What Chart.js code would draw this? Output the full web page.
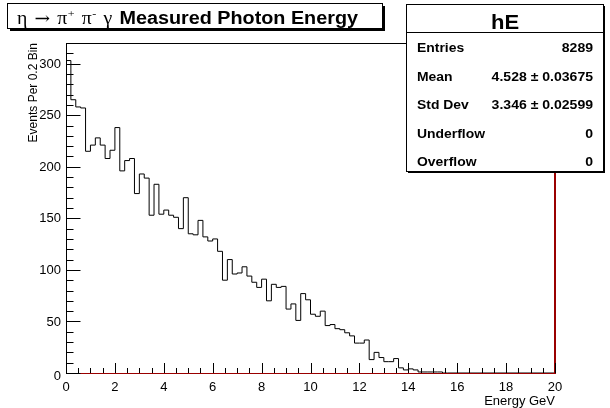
<!DOCTYPE html>
<html>
<head>
<meta charset="utf-8">
<script src="https://cdn.jsdelivr.net/npm/chart.js@4/dist/chart.umd.min.js"></script>
<style>
  html, body { margin: 0; padding: 0; background: #fff; overflow: hidden; }
  canvas { display: block; }
</style>
</head>
<body>
<canvas id="c" width="610" height="408"></canvas>
<script>
// Photon energy spectrum, 0.2 GeV bins starting at 0 GeV
const binWidth = 0.2;
const counts = [
  170, 303, 265, 258, 257, 215, 221, 228, 221, 208,
  216, 238, 196, 206, 208, 174, 193, 189, 153, 183,
  154, 158, 153, 151, 140, 170, 135, 134, 148, 132,
  128, 130, 118, 90, 110, 96, 97, 103, 94, 88,
  83, 91, 70, 86, 83, 84, 62, 67, 51, 77,
  71, 57, 55, 60, 46, 47, 43, 42, 39, 36,
  29, 29, 32, 13, 20, 15, 11, 11, 14, 5,
  3, 4, 3, 1, 1, 1, 1, 1
];

// Axis ranges and tick labels
const xMin = 0, xMax = 20;
const yMin = 0, yMax = 320;
const xTickLabels = [0, 2, 4, 6, 8, 10, 12, 14, 16, 18, 20];
const yTickLabels = [0, 50, 100, 150, 200, 250, 300];
const xMinorStep = 0.5;
const yMinorStep = 10;

const xTitle = 'Energy GeV';
const yTitle = 'Events Per 0.2 Bin';

// Statistics box
const statsName = 'hE';
const statsLabels = ['Entries', 'Mean', 'Std Dev', 'Underflow', 'Overflow'];
const statsValues = ['8289', '4.528 \u00b1 0.03675', '3.346 \u00b1 0.02599', '0', '0'];

// Step outline: one point per bin low edge, closed back down to zero
const points = [{ x: xMin, y: 0 }];
counts.forEach((c, i) => points.push({ x: i * binWidth, y: c }));
points.push({ x: counts.length * binWidth, y: 0 });
points.push({ x: xMax, y: 0 });

const SANS = '"Liberation Sans", Arial, Helvetica, sans-serif';
const SERIF = '"Liberation Serif", "DejaVu Serif", "Times New Roman", serif';

// text drawn with a horizontal stretch factor
function wideText(ctx, t, x, y, sx, align) {
  ctx.save();
  ctx.translate(x, y);
  ctx.scale(sx, 1);
  ctx.textAlign = align || 'left';
  ctx.fillText(t, 0, 0);
  ctx.restore();
}

function drawTitle(ctx) {
  // shadowed title pave
  ctx.fillStyle = '#000';
  ctx.fillRect(10, 6, 375, 25);
  ctx.fillStyle = '#fff';
  ctx.fillRect(7.5, 3.5, 375, 25);
  ctx.strokeStyle = '#000';
  ctx.lineWidth = 1;
  ctx.strokeRect(7.5, 3.5, 375, 25);

  const base = 24;
  const gap = 6.5;
  const big = '18px ' + SERIF, small = '11px ' + SERIF, bold = 'bold 18px ' + SANS;
  const arrow = '17px "DejaVu Serif", ' + SERIF;
  const runs = [
    { t: '\u03b7', f: big, dy: 0, g: gap },
    { t: '\u2192', f: arrow, dy: 0, g: gap },
    { t: '\u03c0', f: big, dy: 0, g: 0.5 },
    { t: '+', f: small, dy: -7, g: gap },
    { t: '\u03c0', f: big, dy: 0, g: 0.5 },
    { t: '-', f: small, dy: -7, g: gap },
    { t: '\u03b3', f: big, dy: 0, g: gap },
    { t: 'Measured Photon Energy', f: bold, dy: 0, g: 0 }
  ];
  let total = 0;
  runs.forEach(r => { ctx.font = r.f; r.w = ctx.measureText(r.t).width; total += r.w + r.g; });
  const x0 = 17, x1 = 358;
  const sx = (x1 - x0) / total;
  ctx.fillStyle = '#000';
  ctx.textBaseline = 'alphabetic';
  let xc = x0;
  runs.forEach(r => {
    ctx.font = r.f;
    wideText(ctx, r.t, xc, base + r.dy, sx, 'left');
    xc += (r.w + r.g) * sx;
  });
}

function drawStats(ctx) {
  const L = 406.5, T = 4.5, W = 197, H = 167;
  ctx.fillStyle = '#000';
  ctx.fillRect(L + 1.5, T + 1.5, W, H);
  ctx.fillStyle = '#fff';
  ctx.fillRect(L, T, W, H);
  ctx.strokeStyle = '#000';
  ctx.lineWidth = 1;
  ctx.strokeRect(L, T, W, H);
  ctx.beginPath();
  ctx.moveTo(L, 32.5);
  ctx.lineTo(L + W, 32.5);
  ctx.stroke();

  ctx.fillStyle = '#000';
  ctx.textBaseline = 'alphabetic';
  ctx.font = 'bold 20px ' + SANS;
  wideText(ctx, statsName, L + W / 2, 28.5, 1.1, 'center');

  ctx.font = 'bold 13px ' + SANS;
  statsLabels.forEach((lab, i) => {
    const yb = 52 + i * 28.5;
    wideText(ctx, lab, 417, yb, 1.07, 'left');
    wideText(ctx, statsValues[i], 593, yb, 1.08, 'right');
  });
}

const rootFrame = {
  id: 'rootFrame',
  afterDatasetsDraw(chart) {
    const { ctx, chartArea: a, scales: { x, y } } = chart;
    ctx.save();

    // frame: top and left black, right and bottom dark red
    ctx.lineWidth = 1;
    ctx.strokeStyle = '#000';
    ctx.beginPath();
    ctx.moveTo(a.left + 0.5, a.bottom);
    ctx.lineTo(a.left + 0.5, a.top + 0.5);
    ctx.lineTo(a.right, a.top + 0.5);
    ctx.stroke();
    ctx.strokeStyle = '#9a0000';
    ctx.lineWidth = 2;
    ctx.beginPath();
    ctx.moveTo(a.right, a.top);
    ctx.lineTo(a.right, a.bottom + 1);
    ctx.stroke();
    ctx.lineWidth = 1;
    ctx.beginPath();
    ctx.moveTo(a.left, a.bottom + 0.5);
    ctx.lineTo(a.right, a.bottom + 0.5);
    ctx.stroke();

    // y ticks (inside the frame)
    ctx.strokeStyle = '#000';
    ctx.lineWidth = 1;
    ctx.beginPath();
    const nY = Math.round((yMax - yMin) / yMinorStep);
    for (let k = 0; k <= nY; k++) {
      const v = yMin + k * yMinorStep;
      const py = Math.round(y.getPixelForValue(v)) + 0.5;
      const len = yTickLabels.includes(v) ? 14.5 : 7.5;
      ctx.moveTo(a.left, py);
      ctx.lineTo(a.left + len, py);
    }
    // x ticks
    const nX = Math.round((xMax - xMin) / xMinorStep);
    for (let k = 0; k <= nX; k++) {
      const v = xMin + k * xMinorStep;
      const px = Math.round(x.getPixelForValue(v)) + 0.5;
      const len = xTickLabels.includes(v) ? 10 : 5;
      ctx.moveTo(px, a.bottom);
      ctx.lineTo(px, a.bottom - len);
    }
    ctx.stroke();

    // tick labels
    ctx.fillStyle = '#000';
    ctx.font = '13px ' + SANS;
    ctx.textAlign = 'right';
    ctx.textBaseline = 'middle';
    yTickLabels.forEach(v => {
      const py = y.getPixelForValue(v) + (v === 0 ? 3.5 : 0.5);
      ctx.fillText(String(v), 61, py);
    });
    ctx.textAlign = 'center';
    ctx.textBaseline = 'alphabetic';
    xTickLabels.forEach(v => {
      ctx.fillText(String(v), x.getPixelForValue(v), 391);
    });

    // axis titles
    ctx.textAlign = 'right';
    ctx.fillText(xTitle, a.right, 405);
    ctx.save();
    ctx.font = '12px ' + SANS;
    ctx.translate(37, a.top);
    ctx.rotate(-Math.PI / 2);
    ctx.textAlign = 'right';
    ctx.fillText(yTitle, 0, 0);
    ctx.restore();

    drawTitle(ctx);
    drawStats(ctx);
    ctx.restore();
  }
};

new Chart(document.getElementById('c'), {
  type: 'line',
  data: {
    datasets: [{
      data: points,
      stepped: 'after',
      borderColor: '#000',
      borderWidth: 1,
      pointRadius: 0,
      fill: false,
      tension: 0
    }]
  },
  options: {
    responsive: false,
    animation: false,
    devicePixelRatio: 1,
    events: [],
    layout: { padding: { left: 66, right: 55, top: 43, bottom: 35 } },
    plugins: {
      legend: { display: false },
      tooltip: { enabled: false },
      title: { display: false }
    },
    scales: {
      x: { type: 'linear', min: xMin, max: xMax, display: false },
      y: { type: 'linear', min: yMin, max: yMax, display: false }
    }
  },
  plugins: [rootFrame]
});
</script>
</body>
</html>
